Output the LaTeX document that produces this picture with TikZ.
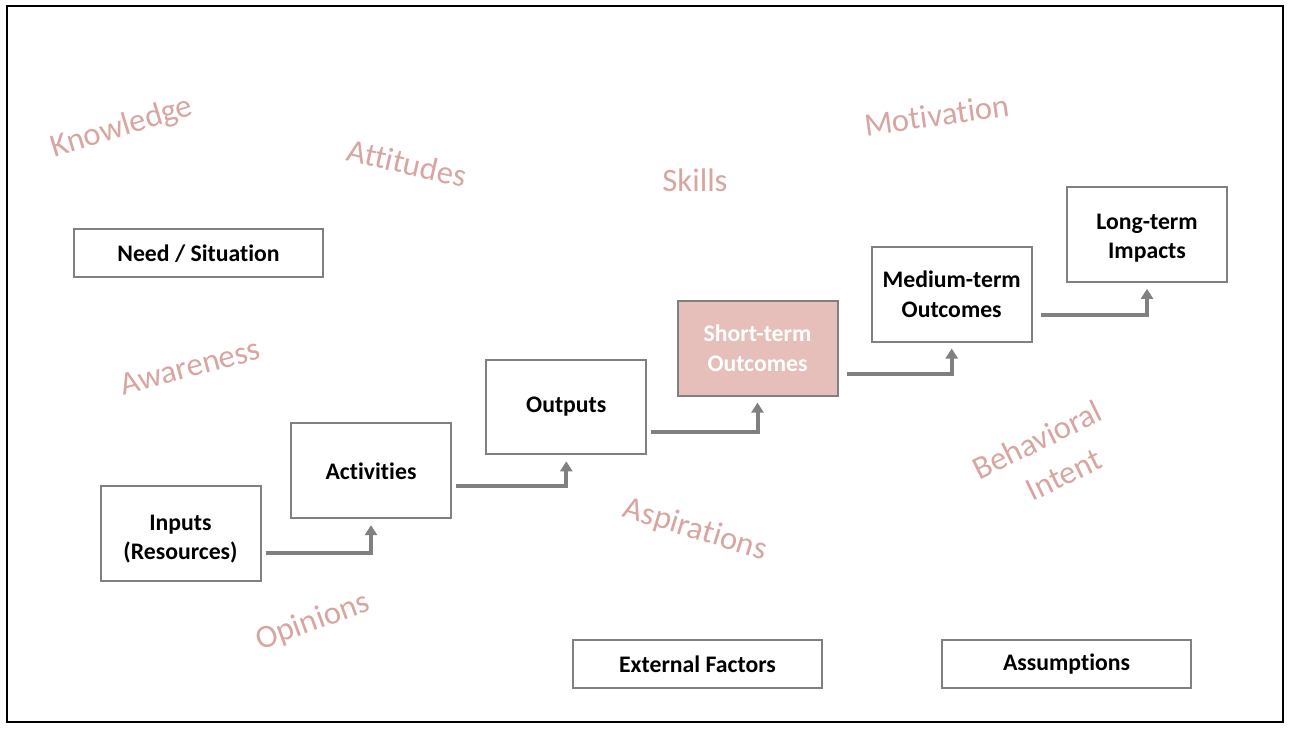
\documentclass[tikz,border=0pt]{standalone}
\usepackage{fontspec}
\setmainfont[Ligatures=NoCommon]{Carlito}
\usetikzlibrary{arrows.meta,calc}
\definecolor{boxgray}{RGB}{128,128,128}
\definecolor{shortfill}{RGB}{230,191,186}
\definecolor{wordpink}{RGB}{216,165,160}
\newcommand{\lowerby}[1]{\rule{0pt}{#1}}
\tikzset{
  stage/.style={draw=boxgray,line width=1.5pt,fill=white,align=center,
    minimum width=120pt,minimum height=71pt,inner sep=0pt,
    font=\fontsize{17.8}{22}\selectfont\bfseries},
  widebox/.style={stage,minimum width=187pt,minimum height=36pt},
  flow/.style={draw=boxgray,line width=3pt,-{Triangle[width=9pt,length=7.5pt]},shorten >=4.5pt},
  word/.style={text=wordpink,align=center,inner sep=1pt,font=\fontsize{24.5}{29}\selectfont}
}
\begin{document}
\begin{tikzpicture}[x=0.75pt,y=-0.75pt]
\useasboundingbox (0,0) rectangle (1291,730);
\draw[line width=1.9pt] (7,6) rectangle (1283,722);
\node [word,rotate=17] (know) at (122,128) {Knowledge};
\node [word,rotate=-13] (att) at (407,163) {Attitudes};
\node [word] (skl) at (695,180) {Skills};
\node [word,rotate=8] (mot) at (937,115) {Motivation};
\node [word,rotate=15] (awa) at (190,367) {Awareness};
\node [word,rotate=26] (beh) at (1037,440) {Behavioral};
\node [word,rotate=26] (int) at (1064,475) {Intent};
\node [word,rotate=-17] (asp) at (695,530) {Aspirations};
\node [word,rotate=20] (opi) at (313,622) {Opinions};
\node [widebox] (need) at (198.5,253.5) {Need / Situation};
\node [stage] (inp) at (180.5,533.3) {\lowerby{20.5pt}Inputs\\(Resources)};
\node [stage] (act) at (371,470.8) {Activities};
\node [stage] (outp) at (566.3,407) {Outputs};
\node [stage,fill=shortfill,text=white] (short) at (757.5,348.3) {Short-term\\Outcomes};
\node [stage] (med) at (951.7,294.2) {Medium-term\\Outcomes};
\node [stage] (long) at (1147,234.5) {\lowerby{17.5pt}Long-term\\Impacts};
\node [widebox] (ext) at (697.5,664) {External Factors};
\node [widebox] (assum) at (1066.5,664) {Assumptions};
\draw [flow] ($(inp.east)+(4,20)$) -| (act.south);
\draw [flow] ($(act.east)+(4,15)$) -| (outp.south);
\draw [flow] ($(outp.east)+(4,24.7)$) -| (short.south);
\draw [flow] ($(short.east)+(8,25.7)$) -| (med.south);
\draw [flow] ($(med.east)+(8,21)$) -| (long.south);
\end{tikzpicture}
\end{document}
